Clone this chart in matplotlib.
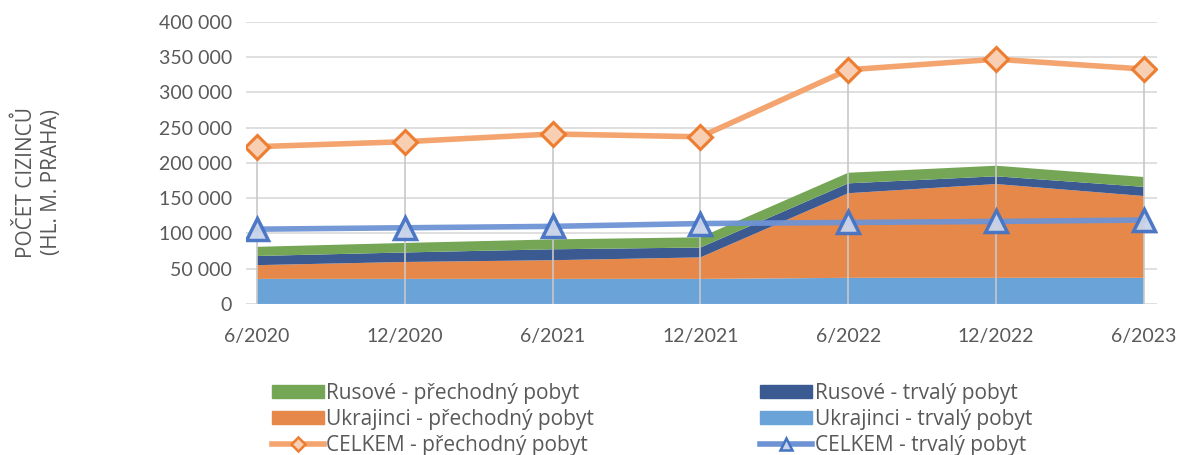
import numpy as np
import matplotlib
matplotlib.use("Agg")
import matplotlib.pyplot as plt
from matplotlib.ticker import FuncFormatter
from matplotlib.patches import Patch
from matplotlib.lines import Line2D

# %% data
periods = ["6/2020", "12/2020", "6/2021", "12/2021", "6/2022", "12/2022", "6/2023"]
ukr_trvaly = [35500, 35500, 35500, 35500, 37000, 37000, 37000]
ukr_prechodny = [19500, 24000, 26500, 30500, 120000, 133000, 116000]
rus_trvaly = [13000, 13500, 15500, 14000, 14000, 11000, 13000]
rus_prechodny = [13000, 13500, 14000, 14500, 15000, 15000, 14000]
celkem_prechodny = [223000, 230000, 241000, 237000, 332000, 347000, 333000]
celkem_trvaly = [106000, 108000, 110000, 114000, 115500, 117000, 119000]

yticks = np.arange(0, 400001, 50000)

# %% colours
c_ukr_trv = "#6aa3d8"
c_ukr_pre = "#e6884a"
c_rus_trv = "#3c5a92"
c_rus_pre = "#74a655"
c_cel_pre = "#f4a46e"
c_cel_trv = "#6e93d4"
grey = "#595959"

plt.rcParams['font.family'] = ['Lato', 'DejaVu Sans']

fig = plt.figure(figsize=(11.82, 4.55), dpi=100)
ax = fig.add_axes([0.208, 0.332, 0.771, 0.62])

x = np.arange(len(periods))
ax.stackplot(x, ukr_trvaly, ukr_prechodny, rus_trvaly, rus_prechodny,
             colors=[c_ukr_trv, c_ukr_pre, c_rus_trv, c_rus_pre], zorder=2, lw=0)

# drop lines from the top series
ax.vlines(x, 0, celkem_prechodny, color="#c8c8c8", lw=1.2, zorder=3)

ax.plot(x, celkem_prechodny, color=c_cel_pre, lw=4, zorder=4,
        marker="D", ms=12, mfc="#f8cfb2", mec="#ed7d31", mew=2.2)
ax.plot(x, celkem_trvaly, color=c_cel_trv, lw=4, zorder=4, alpha=0.95,
        marker="^", ms=16, mfc="#c9d4ea", mec="#4472c4", mew=2.5)

ax.set_xlim(-0.075, len(periods) - 1 + 0.09)
ax.set_ylim(0, 400000)
ax.set_yticks(yticks)
ax.yaxis.set_major_formatter(FuncFormatter(lambda v, p: "{:,.0f}".format(v).replace(",", " ")))
ax.set_xticks(x)
ax.set_xticklabels(periods)
ax.grid(axis="y", color="#d9d9d9", lw=1.2, zorder=0)
ax.set_axisbelow(True)
for s in ax.spines.values():
    s.set_visible(False)
ax.tick_params(axis="both", length=0, labelsize=14, colors=grey, pad=10)
ax.tick_params(axis="x", pad=17)

fig.text(0.032, 0.60, "POČET CIZINCŮ\n(HL. M. PRAHA)", rotation=90,
         ha="center", va="center", fontsize=15, color=grey, linespacing=1.25,
         family="Open Sans")

handles = [
    Patch(color=c_rus_pre), Patch(color=c_ukr_pre),
    Line2D([], [], color=c_cel_pre, lw=4, marker="D", ms=7, mfc="#f8cfb2", mec="#ed7d31", mew=1.8),
    Patch(color=c_rus_trv), Patch(color=c_ukr_trv),
    Line2D([], [], color=c_cel_trv, lw=4, marker="^", ms=8.5, mfc="#c9d4ea", mec="#4472c4", mew=1.8),
]
labels = ["Rusové - přechodný pobyt", "Ukrajinci - přechodný pobyt", "CELKEM - přechodný pobyt",
          "Rusové - trvalý pobyt", "Ukrajinci - trvalý pobyt", "CELKEM - trvalý pobyt"]
leg = fig.legend(handles, labels, ncol=2, loc="upper left", bbox_to_anchor=(0.221, 0.182),
                 frameon=False, prop={"family": "Open Sans", "size": 15},
                 handlelength=2.5, handleheight=0.62, handletextpad=0.1,
                 columnspacing=8.0, labelspacing=0.26, borderpad=0)
for t in leg.get_texts():
    t.set_color(grey)

fig.savefig("out.png", dpi=100)
